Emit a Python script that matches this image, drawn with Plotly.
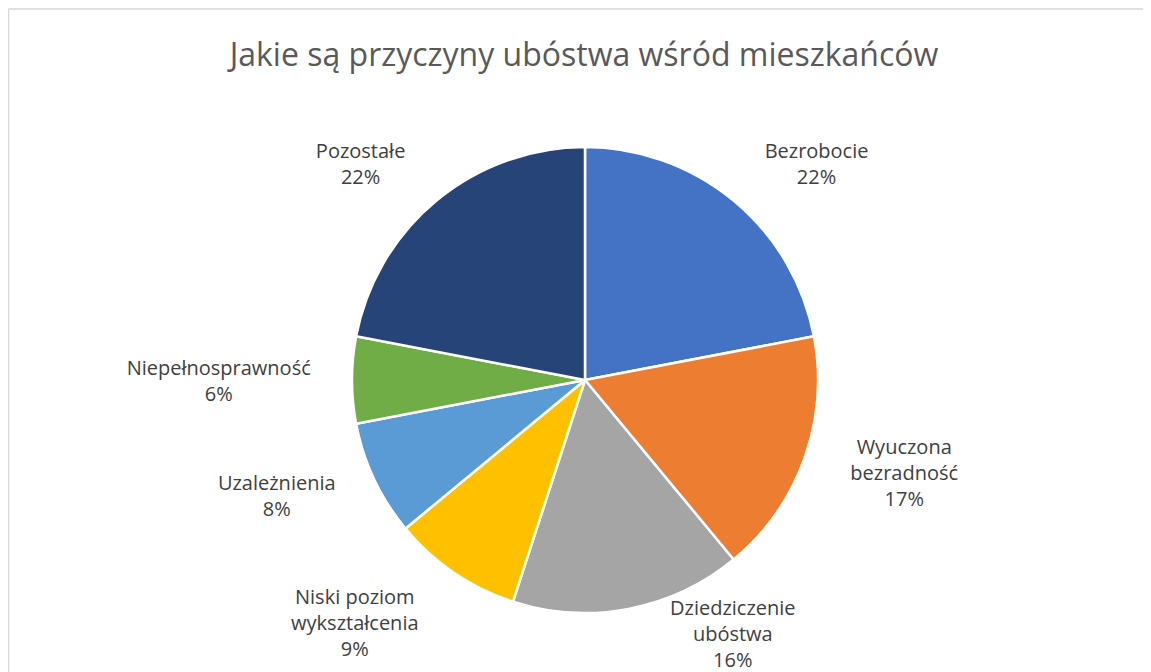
import plotly.graph_objects as go

title = "Jakie są przyczyny ubóstwa wśród mieszkańców"
categories = [
    "Bezrobocie",
    "Wyuczona<br>bezradność",
    "Dziedziczenie<br>ubóstwa",
    "Niski poziom<br>wykształcenia",
    "Uzależnienia",
    "Niepełnosprawność",
    "Pozostałe",
]
values = [22, 17, 16, 9, 8, 6, 22]
colors = ["#4472C4", "#ED7D31", "#A5A5A5", "#FFC000", "#5B9BD5", "#70AD47", "#264478"]

# page has an 8px body margin; figure sized to fill the rest of the window
OFF = 8
W, H = 1151 - OFF, 672 - OFF


def px(x):
    return (x - OFF) / W


def py(y):
    return 1 - (y - OFF) / H


cx, cy, r = 585, 380, 233
r_lab = 261

# the label of this slice is moved beside the pie (as in the original chart)
moved = "Dziedziczenie<br>ubóstwa"
moved_pos = (733, 633)

total = sum(values)
pct = [f"{round(100 * v / total)}%" for v in values]
label_text = [("" if c == moved else f"{c}<br>{p}") for c, p in zip(categories, pct)]


def dom(rad):
    return dict(x=[px(cx - rad), px(cx + rad)], y=[py(cy + rad), py(cy - rad)])


LABEL_FONT = dict(family="Open Sans", size=20, color="#404040")

fig = go.Figure()
# pie slices
fig.add_trace(
    go.Pie(
        labels=categories,
        values=values,
        sort=False,
        direction="clockwise",
        rotation=0,
        marker=dict(colors=colors, line=dict(color="white", width=2.5)),
        textinfo="none",
        showlegend=False,
        hoverinfo="label+percent",
        automargin=False,
        domain=dom(r),
    )
)
# data labels (placed outside a slightly larger transparent ring)
fig.add_trace(
    go.Pie(
        labels=categories,
        values=values,
        text=label_text,
        sort=False,
        direction="clockwise",
        rotation=0,
        marker=dict(colors=["rgba(0,0,0,0)"] * len(values), line=dict(width=0)),
        texttemplate="%{text}",
        textposition="outside",
        textfont=LABEL_FONT,
        showlegend=False,
        hoverinfo="skip",
        automargin=False,
        domain=dom(r_lab),
    )
)

i = categories.index(moved)
annotations = [
    dict(
        text=f"{categories[i]}<br>{pct[i]}",
        x=px(moved_pos[0]), y=py(moved_pos[1]),
        xref="paper", yref="paper",
        xanchor="center", yanchor="middle",
        showarrow=False, align="center",
        font=LABEL_FONT,
    )
]

fig.update_layout(
    width=W,
    height=H,
    autosize=False,
    margin=dict(l=0, r=0, t=0, b=0, autoexpand=False),
    paper_bgcolor="white",
    title=dict(
        text=title,
        x=px(584),
        xanchor="center",
        y=py(55),
        yanchor="middle",
        font=dict(family="Open Sans", size=32, color="#595959"),
    ),
    annotations=annotations,
    shapes=[
        dict(type="line", xref="paper", yref="paper",
             x0=px(8.5), x1=1, y0=py(9), y1=py(9),
             line=dict(color="#D9D9D9", width=1.5), layer="below"),
        dict(type="line", xref="paper", yref="paper",
             x0=px(8.5), x1=px(8.5), y0=0, y1=py(9),
             line=dict(color="#D9D9D9", width=1.5), layer="below"),
    ],
)

fig.write_html("out.html")
